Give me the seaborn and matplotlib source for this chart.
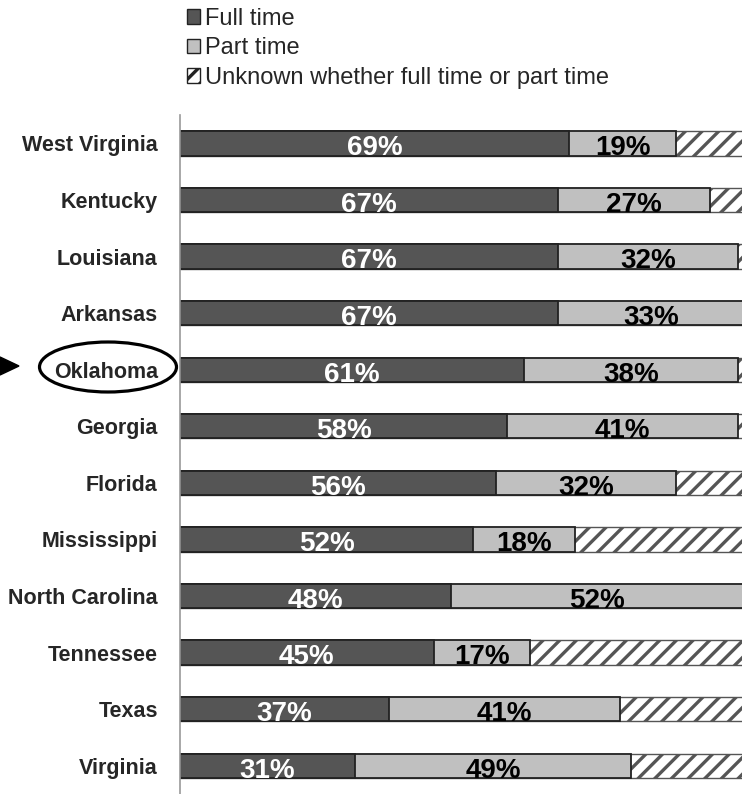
import numpy as np
import pandas as pd
import seaborn as sns
import matplotlib.pyplot as plt
from matplotlib.patches import Ellipse, Polygon, Patch

states = ["West Virginia", "Kentucky", "Louisiana", "Arkansas", "Oklahoma", "Georgia",
          "Florida", "Mississippi", "North Carolina", "Tennessee", "Texas", "Virginia"]
full_time = [69, 67, 67, 67, 61, 58, 56, 52, 48, 45, 37, 31]
part_time = [19, 27, 32, 33, 38, 41, 32, 18, 52, 17, 41, 49]
unknown = [12, 6, 1, 0, 1, 1, 12, 30, 0, 38, 22, 20]

legend_labels = ["Full time", "Part time", "Unknown whether full time or part time"]

sns.set_style("white")
plt.rcParams["font.family"] = ["Liberation Sans", "DejaVu Sans"]
plt.rcParams["hatch.linewidth"] = 2.4

df = pd.DataFrame({"state": states, "full": full_time, "part": part_time, "unk": unknown})
df["fp"] = df["full"] + df["part"]
df["total"] = df["fp"] + df["unk"]

fig = plt.figure(figsize=(7.42, 7.94), dpi=100)
ax = fig.add_axes([0.2426, 0.0, 0.76, 0.855])

edge = "#222222"
bw = 0.43
# draw back to front so each segment sits on the one behind it
sns.barplot(data=df, x="total", y="state", color="white", edgecolor="#555555",
            hatch="//", width=bw, linewidth=1, ax=ax, orient="h")
sns.barplot(data=df, x="fp", y="state", color="#c0c0c0", edgecolor=edge,
            width=bw, linewidth=1.3, ax=ax, orient="h")
sns.barplot(data=df, x="full", y="state", color="#555555", edgecolor=edge,
            width=bw, linewidth=1.3, ax=ax, orient="h")

# percentage labels, baseline sitting on the bottom edge of the bar
for i, row in df.iterrows():
    ax.text(row["full"] / 2, i + 0.21, f"{row['full']}%", ha="center", va="baseline",
            color="white", fontsize=20, fontweight="bold")
    ax.text(row["full"] + row["part"] / 2, i + 0.21, f"{row['part']}%", ha="center",
            va="baseline", color="black", fontsize=20, fontweight="bold")

ax.set_xlim(0, 100)
ax.set_ylim(11.5, -0.5)
ax.set_xlabel("")
ax.set_ylabel("")
ax.set_xticks([])
ax.set_yticks(range(len(states)))
ax.set_yticklabels(states, fontsize=15.5, fontweight="bold")
ax.set_yticks(np.arange(-0.5, len(states)), minor=True)
ax.tick_params(axis="y", which="major", length=0, pad=16)
ax.tick_params(axis="y", which="minor", length=6, color="#999999", width=1)
for side in ["top", "right", "bottom"]:
    ax.spines[side].set_visible(False)
ax.spines["left"].set_color("#999999")
ax.spines["left"].set_linewidth(1.2)

handles = [Patch(facecolor="#555555", edgecolor=edge),
           Patch(facecolor="#c0c0c0", edgecolor=edge),
           Patch(facecolor="white", edgecolor=edge, hatch="//")]
fig.legend(handles, legend_labels, loc="upper left", bbox_to_anchor=(0.2235, 1.017),
           frameon=False, fontsize=17, handlelength=0.55, handleheight=0.55,
           handletextpad=0.2, labelspacing=0.32)

# highlight Oklahoma
fig.patches.append(Ellipse((108 / 742, 1 - 367 / 794), 137 / 742, 50 / 794,
                           transform=fig.transFigure, fill=False, lw=2.3, color="black"))
fig.patches.append(Polygon([[0, 1 - 357 / 794], [0, 1 - 375 / 794], [19 / 742, 1 - 366 / 794]],
                           closed=True, transform=fig.transFigure, color="black"))

fig.savefig("out.png", dpi=100)
